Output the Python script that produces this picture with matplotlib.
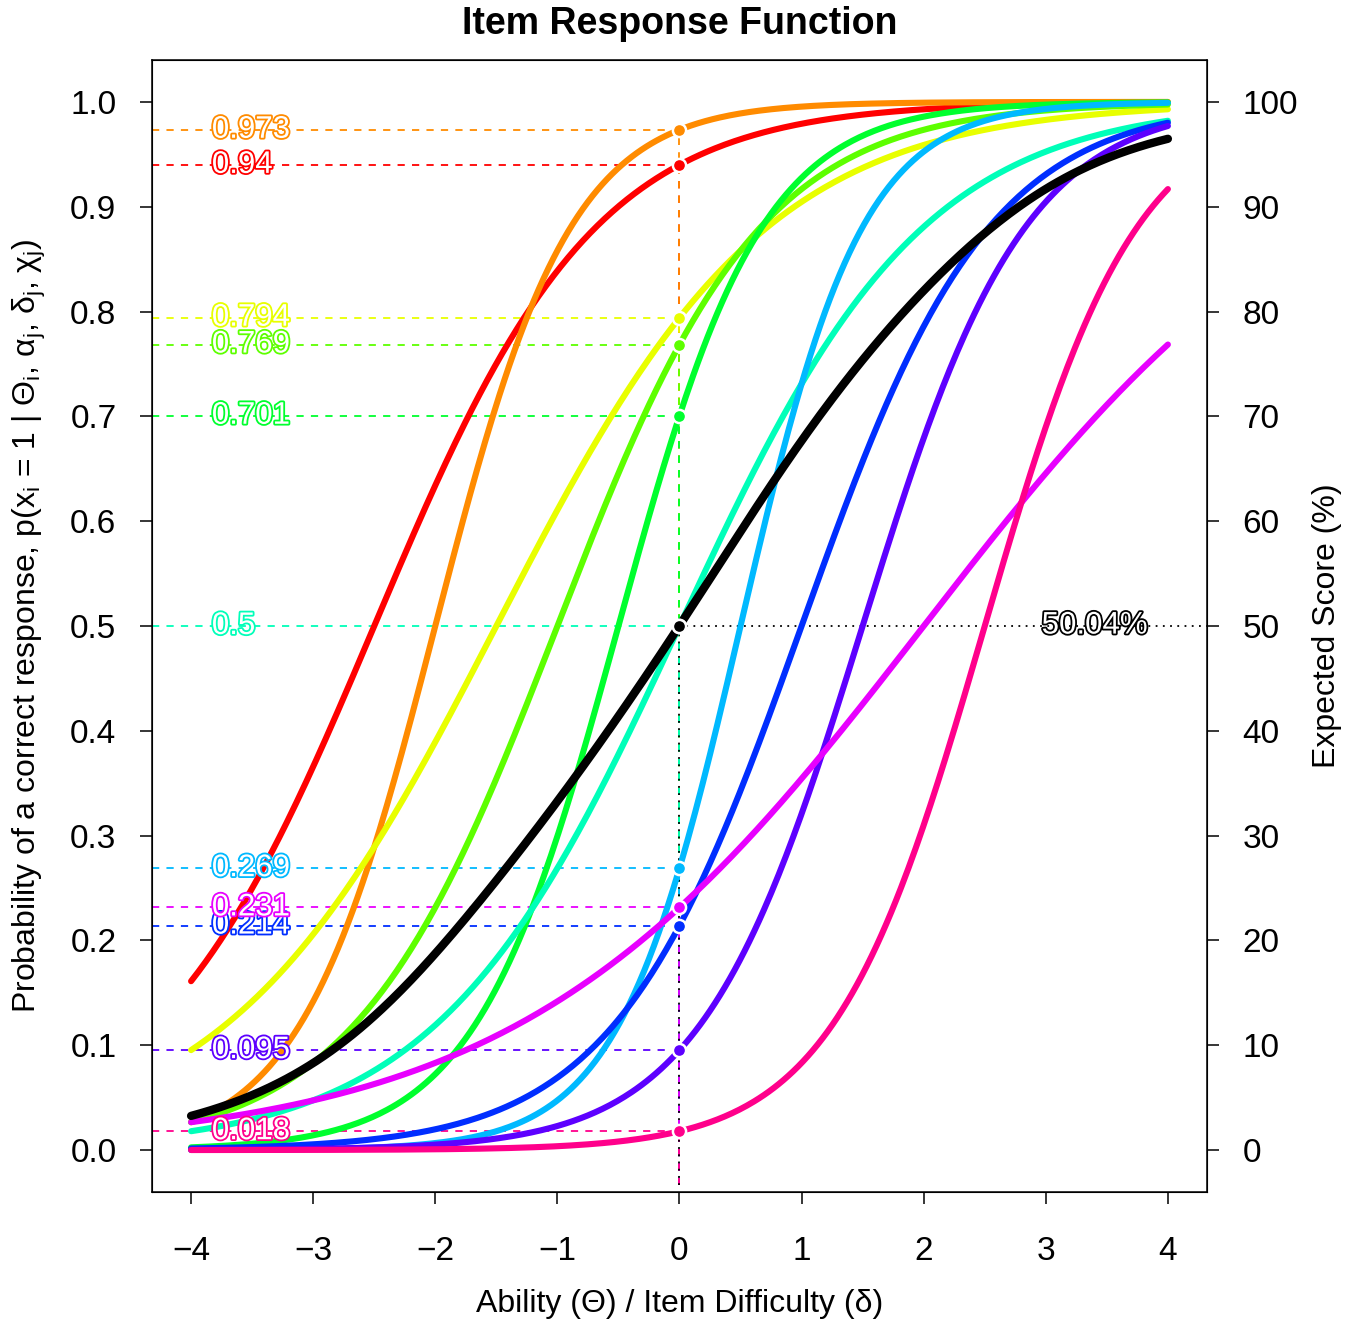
import numpy as np
import matplotlib.pyplot as plt
import matplotlib.patheffects as pe

plt.rcParams['font.family'] = ['Liberation Sans', 'DejaVu Sans']
plt.rcParams['mathtext.fontset'] = 'custom'
plt.rcParams['mathtext.rm'] = 'Liberation Sans'

# ---------- item parameters (3PL) ----------
item_colors = ['#FF0000', '#FF8B00', '#E8FF00', '#5DFF00', '#00FF2E', '#00FFB9',
               '#00B9FF', '#002EFF', '#5D00FF', '#E800FF', '#FF008B']
alpha = [1.1, 1.8, 0.9, 1.2, 1.7, 1.0, 2.0, 1.3, 1.5, 0.6, 1.6]    # discrimination
delta = [-2.5, -2.0, -1.5, -1.0, -0.5, 0.0, 0.5, 1.0, 1.5, 2.0, 2.5]  # difficulty
chi = [0.0] * 11                                                    # guessing

theta_at = 0.0
x_lo, x_hi = -4.0, 4.0
y_lo, y_hi = -0.04, 1.04


def irf(theta, a, d, c):
    return c + (1 - c) / (1 + np.exp(-a * (theta - d)))


theta = np.linspace(x_lo, x_hi, 400)
curves = [irf(theta, a, d, c) for a, d, c in zip(alpha, delta, chi)]
tcc = np.mean(curves, axis=0)
p_at = [irf(theta_at, a, d, c) for a, d, c in zip(alpha, delta, chi)]
p_mean = np.mean(p_at)

fig = plt.figure(figsize=(13.56, 13.24), dpi=100)
ax = fig.add_axes([0.1121, 0.0997, 0.7780, 0.8550])
xpad = (x_hi - x_lo) * 0.04
ax.set_xlim(x_lo - xpad, x_hi + xpad)
ax.set_ylim(y_lo, y_hi)

# curves
for y, col in zip(curves, item_colors):
    ax.plot(theta, y, color=col, lw=4.4, solid_capstyle='round', zorder=3)
ax.plot(theta, tcc, color='black', lw=6.0, solid_capstyle='round', zorder=4)

# guide lines at theta = 0
for p, col in zip(p_at, item_colors):
    ax.plot([x_lo - xpad, theta_at], [p, p], color=col, lw=1.3,
            ls=(0, (4, 4)), zorder=2)
    ax.plot([theta_at, theta_at], [-0.033, p], color=col, lw=1.3,
            ls=(0, (4, 4)), zorder=2)
ax.plot([theta_at, x_hi + xpad], [p_mean, p_mean], color='black', lw=1.3,
        ls=(0, (1, 3)), zorder=2)
ax.plot([theta_at, theta_at], [-0.033, p_mean], color='black', lw=1.3,
        ls=(0, (1, 3)), zorder=2)

# points
for p, col in zip(p_at, item_colors):
    ax.scatter([theta_at], [p], s=90, color=col, edgecolors='white',
               linewidths=1.8, zorder=6)
ax.scatter([theta_at], [p_mean], s=90, color='black', edgecolors='white',
           linewidths=1.8, zorder=6)

# outlined value labels
for p, col in zip(p_at, item_colors):
    t = ax.text(-3.83, p, f"{round(p, 3):g}", color='white', fontsize=22.5,
                ha='left', va='center', zorder=7)
    t.set_path_effects([pe.Stroke(linewidth=2.6, foreground=col), pe.Normal()])
t = ax.text(3.4, p_mean, f"{round(p_mean * 100, 2):g}%", color='white',
            fontsize=22.5, ha='center', va='center', zorder=7)
t.set_path_effects([pe.Stroke(linewidth=2.6, foreground='black'), pe.Normal()])

# axes
ax.set_xticks(np.arange(-4, 5, 1))
ax.set_xticklabels([str(v).replace('-', '\u2212') for v in range(-4, 5)])
ax.set_yticks(np.round(np.arange(0, 1.01, 0.1), 1))
ax.set_yticklabels([f"{v:.1f}" for v in np.arange(0, 1.01, 0.1)])
ax.tick_params(axis='x', labelsize=24, length=8.6, width=1.1, pad=23)
ax.tick_params(axis='y', labelsize=24, length=8.6, width=1.1, pad=17)
for s in ax.spines.values():
    s.set_linewidth(1.1)

ax2 = ax.twinx()
ax2.set_ylim(y_lo * 100, y_hi * 100)
ax2.set_yticks(np.arange(0, 101, 10))
ax2.tick_params(labelsize=24, length=8.6, width=1.1, pad=17)
ax2.set_ylabel("Expected Score (%)", fontsize=23, labelpad=10)

ax.set_xlabel("Ability (\u0398) / Item Difficulty (\u03b4)", fontsize=23, labelpad=16)
ax.set_ylabel("Probability of a correct response, p(x$_\\mathregular{i}$ = 1 | "
              "\u0398$_\\mathregular{i}$, \u03b1$_\\mathregular{j}$, "
              "\u03b4$_\\mathregular{j}$, \u03c7$_\\mathregular{j}$)",
              fontsize=23, labelpad=16)
ax.set_title("Item Response Function", fontsize=27, fontweight='bold', pad=19)

fig.savefig("out.png", dpi=100)
